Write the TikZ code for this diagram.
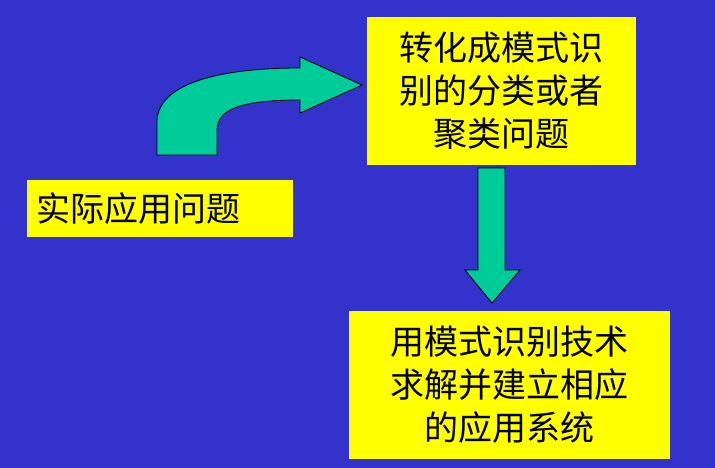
\documentclass[tikz,border=0pt]{standalone}
\usepackage{fontspec}
\newfontfamily\cjk{Noto Sans CJK SC}
\definecolor{bg}{HTML}{3333CC}
\definecolor{yb}{HTML}{FFFF00}
\definecolor{tl}{HTML}{00CC99}
\begin{document}
\begin{tikzpicture}[x=1pt,y=-1pt,
  box/.style={fill=yb,inner sep=0pt,font=\cjk\fontsize{34}{43}\selectfont,align=center},
  arr/.style={fill=tl,draw=black,line width=0.8pt}]
\fill[bg] (0,0) rectangle (715,468);
\useasboundingbox (0,0) rectangle (715,468);
\fill[yb] (27,180) rectangle (293,237);
\node[box,fill=none,anchor=west] (a) at (36,209) {实际应用问题};
\fill[yb] (367,17) rectangle (636,165);
\node[box,fill=none] (b) at (501,91) {转化成模式识\\别的分类或者\\聚类问题};
\fill[yb] (349,311) rectangle (670,459);
\node[box,fill=none] (c) at (509,385) {用模式识别技术\\求解并建立相应\\的应用系统};
\draw[arr] (157,155) -- (157,122) .. controls (157,85) and (215,68) .. (300,68)
  -- (300,57) -- (362,85) -- (300,113) -- (300,100)
  .. controls (245,100) and (217,108) .. (217,130) -- (217,155) -- cycle;
\draw[arr] (478,168) -- (505,168) -- (505,270) -- (520,270) -- (492,303) -- (465,270) -- (478,270) -- cycle;
\end{tikzpicture}
\end{document}
